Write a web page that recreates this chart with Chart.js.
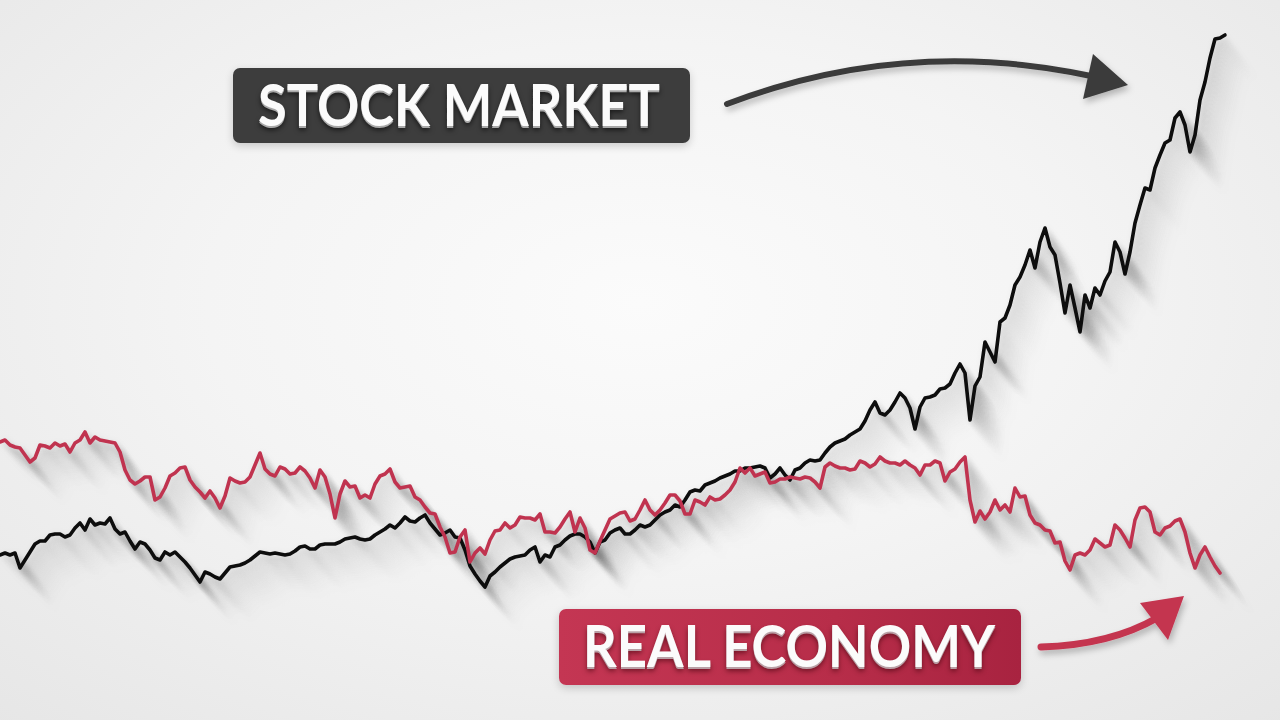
<!DOCTYPE html>
<html>
<head>
<meta charset="utf-8">
<script src="https://cdn.jsdelivr.net/npm/chart.js@4/dist/chart.umd.min.js"></script>
<style>
  html, body { margin: 0; padding: 0; }
  body {
    width: 1280px; height: 720px; overflow: hidden; position: relative;
    background: radial-gradient(ellipse 75% 80% at 50% 42%, #fbfbfb 0%, #f4f4f4 45%, #e6e6e6 100%);
  }
  #chart { position: absolute; left: 0; top: 0; }
  .tag {
    position: absolute; border-radius: 7px;
    box-shadow: 0 3px 8px rgba(0,0,0,0.18);
  }
  #stockBox { left: 233px; top: 68px; width: 457px; height: 75px; background: #3d3d3d; }
  #econBox { left: 559px; top: 609px; width: 462px; height: 76px;
    background: linear-gradient(90deg, #c43653 0%, #b72d49 60%, #a82340 100%); }
  .txt {
    position: absolute; white-space: nowrap; color: #fbfbfb;
    font-family: Lato, "Open Sans", sans-serif; font-weight: 700;
    line-height: 58px; transform-origin: 0 0;
  }
  #stockTxt { font-size: 58px; left: 258px; top: 75px;
    text-shadow: 0 2px 0 #a8a8a8, 0 4px 6px rgba(0,0,0,0.6); }
  #econTxt { font-size: 57px; left: 583px; top: 616px;
    text-shadow: 0 2px 0 #b9a0a6, 0 4px 6px rgba(60,0,10,0.6); }
  svg { position: absolute; left: 0; top: 0; }
</style>
</head>
<body>
<canvas id="chart" width="1280" height="720"></canvas>
<svg width="1280" height="720" viewBox="0 0 1280 720">
  <defs>
    <filter id="ds" x="-20%" y="-50%" width="140%" height="200%">
      <feDropShadow dx="2" dy="4" stdDeviation="3" flood-color="#000" flood-opacity="0.25"/>
    </filter>
  </defs>
  <g filter="url(#ds)">
    <path d="M727,104 Q905,36 1091,76" fill="none" stroke="#3b3b3b" stroke-width="6" stroke-linecap="round"/>
    <polygon points="1093,54 1128,85 1083,99" fill="#3b3b3b"/>
    <path d="M1041,647 Q1110,645 1157,618" fill="none" stroke="#c4344f" stroke-width="7" stroke-linecap="round"/>
    <polygon points="1140,603 1184,596 1168,640" fill="#c4344f"/>
  </g>
</svg>
<div class="tag" id="stockBox"></div>
<div class="txt" id="stockTxt" data-w="402">STOCK MARKET</div>
<div class="tag" id="econBox"></div>
<div class="txt" id="econTxt" data-w="412">REAL ECONOMY</div>
<script>
// Index levels (arbitrary units), one reading per period
const stockMarket = [
  82.5,83.5,82.5,83.5,76,80,84,88,89.5,89.5,92.5,93,93,91.5,92.5,96,98.5,95,100.5,97.5,
  98.5,98,101,95.5,93,94,89.5,85.5,89,88,85,81,80,84,82.5,84,81.5,79,76,72.5,
  69,74,73,71.5,70.5,73.5,76.5,77,77.5,78.5,80,82,84,83.5,83,83.5,83,82.5,83,84.5,
  86.5,87,85.5,85.5,87.5,88,88,88,89,90.5,91,91.5,90.5,90,90.5,92.5,94,95.5,97.5,96,
  98.5,101.5,99.5,99,101,102.5,98.5,95.5,92.5,93.5,95,91.5,91,85,77,73,69.5,66.5,72,74,
  76.5,78.5,80.5,81.5,82,82.5,85,86.5,79,82.5,81.5,86.5,87.5,90,92,93,93,91.5,89,83.5,
  89,90,93.5,95,96,93,93,95,97.5,96.5,97.5,100,102.5,104,105,107.5,106.5,110,114,115,
  114.5,117.5,118.5,119.5,121,122,123,124.5,124.5,126,126,126.5,127,126,121,123,126,122.5,120,125,
  126,128.5,130,129.5,130,133.5,136.5,138.5,139.5,140.5,142.5,144,145.5,149.5,155,159,153.5,152.5,155,159,
  163.5,161,156,145.5,156.5,161,161.5,162.5,165.5,166,168,173.5,178,173.5,150,167,171.5,189,184,179,
  199,201,207.5,217.5,221.5,227.5,235,226,239,246,236.5,232.5,218.5,203.5,217.5,206,194,212.5,206,216,
  212.5,219.5,224,239,234,223,234,248.5,257.5,266,265,276,282.5,288.5,290,301,304,297.5,284,292.5,
  310,319,331,340.5,341,342.5
];
const realEconomy = [
  139,140,137.5,136.5,136,132.5,129,131,137.5,137,136,138.5,137,138,134,138.5,140,144,138.5,141.5,
  140,139.5,139,138.5,134,125,120,118,119.5,121.5,121.5,110,111.5,116,122,123.5,126,126.5,120,116.5,
  114,111,114.5,111,106,112,121,119.5,118.5,119,121.5,127.5,133.5,125.5,123,122,126.5,125.5,123,123.5,
  126.5,124.5,121,116,125,121.5,113,101,113,119.5,116.5,117,111,112.5,111,118,122,123,125.5,119,
  116,116.5,117,111.5,110,106.5,103.5,103,96.5,91.5,83.5,84,91.5,95,79,83.5,86,83,90,94.5,
  95,98.5,96,97.5,101.5,101,101,100,103,94,94,93.5,96.5,100.5,104,94,101,96,85,83.5,
  89.5,95,100.5,102,103.5,104,99.5,100.5,105,110,105,102.5,105,108.5,112.5,112.5,109.5,103,103,110,
  109,107.5,111.5,110,110.5,112.5,115,119,126,123.5,126,122,123,124,118.5,119,120.5,120.5,121.5,121,
  120.5,121.5,121,119,116,126.5,128.5,127,126,126,125,125.5,129.5,128.5,126.5,128,131.5,129.5,128.5,128.5,
  127.5,129.5,127.5,126,122.5,127.5,127.5,129.5,128.5,119.5,124,125.5,129,131.5,110,99,104.5,100.5,104,110,
  105,107.5,104,116,111.5,112,102.5,98.5,97.5,95,94.5,88.5,89,79.5,75,82.5,83.5,82.5,85,90.5,
  88.5,86.5,87.5,97.5,95,91,86.5,100,106,106.5,104,94,92.5,96,97,99.5,100.5,94,83.5,76,
  82.5,86.5,81.5,77,73.5,null
];
const periods = stockMarket.map((_, i) => 'P' + (i + 1));
const seriesNames = ['Stock market', 'Real economy'];

const longShadow = {
  id: 'longShadow',
  beforeDatasetsDraw(chart) {
    const ctx = chart.ctx;
    ctx.save();
    ctx.filter = 'blur(3px)';
    ctx.lineJoin = 'round';
    chart.data.datasets.forEach((ds, i) => {
      const pts = chart.getDatasetMeta(i).data.filter(p => !p.skip);
      for (let k = 2; k <= 44; k += 2) {
        ctx.beginPath();
        pts.forEach((p, j) => {
          const x = p.x + k * 0.8, y = p.y + k;
          if (j) ctx.lineTo(x, y); else ctx.moveTo(x, y);
        });
        ctx.strokeStyle = 'rgba(0,0,0,' + (0.065 * (1 - k / 46)).toFixed(4) + ')';
        ctx.lineWidth = 4.5;
        ctx.stroke();
      }
    });
    ctx.restore();
  }
};

new Chart(document.getElementById('chart'), {
  type: 'line',
  data: {
    labels: periods,
    datasets: [
      { label: seriesNames[1], data: realEconomy, borderColor: '#c0334f', borderWidth: 3.6,
        pointRadius: 0, tension: 0, spanGaps: false, borderJoinStyle: 'round', borderCapStyle: 'round' },
      { label: seriesNames[0], data: stockMarket, borderColor: '#0d0d0d', borderWidth: 3.6,
        pointRadius: 0, tension: 0, borderJoinStyle: 'round', borderCapStyle: 'round' }
    ]
  },
  options: {
    responsive: false,
    animation: false,
    devicePixelRatio: 1,
    layout: { padding: { left: 0, right: 55, top: 0, bottom: 0 } },
    plugins: { legend: { display: false }, tooltip: { enabled: false } },
    scales: {
      x: { display: false, offset: false },
      y: { display: false, min: 0, max: 360 }
    }
  },
  plugins: [longShadow]
});

document.querySelectorAll('.txt').forEach(el => {
  const target = parseFloat(el.dataset.w);
  const w = el.getBoundingClientRect().width;
  el.style.transform = 'scaleX(' + (target / w).toFixed(4) + ')';
});
</script>
</body>
</html>
